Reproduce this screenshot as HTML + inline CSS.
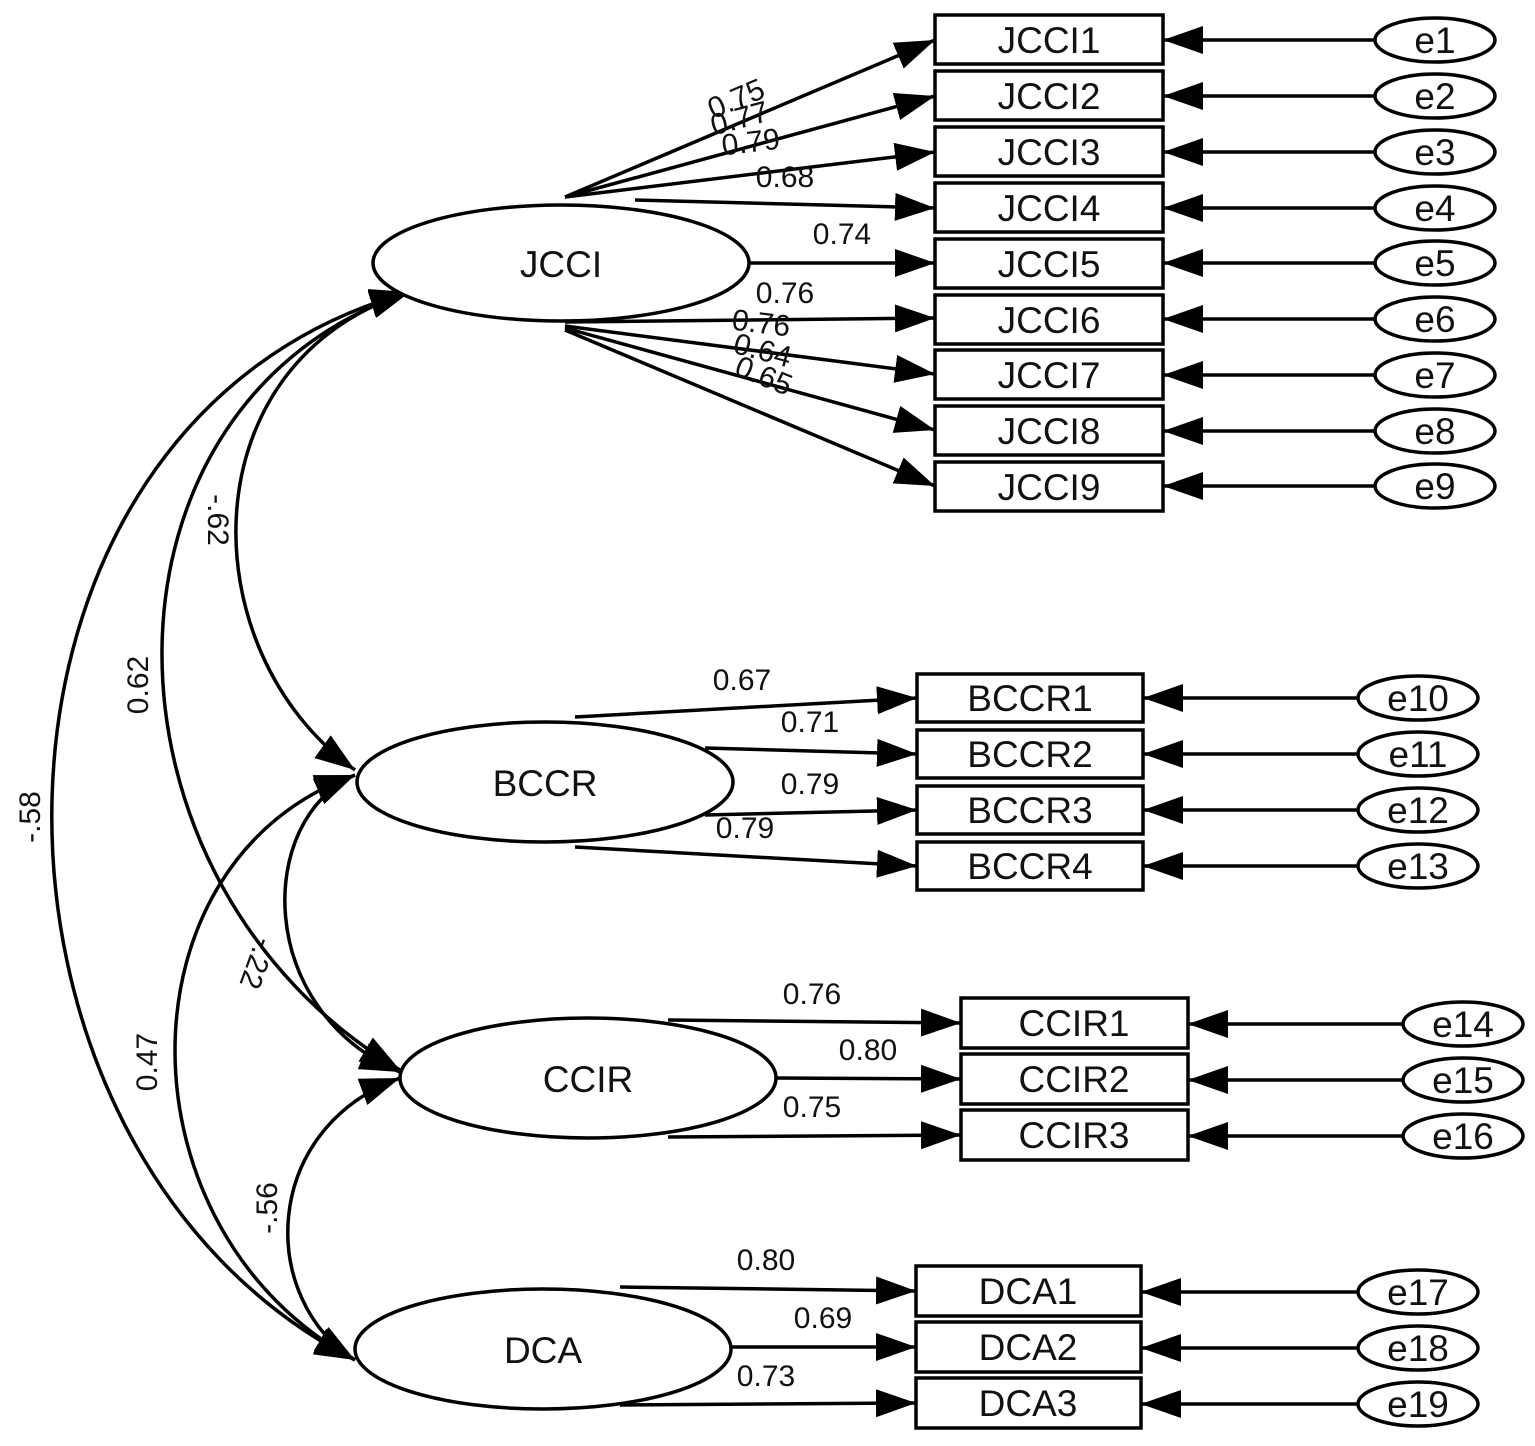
<!DOCTYPE html>
<html><head><meta charset="utf-8"><style>
html,body{margin:0;padding:0;background:#fff}
svg text{font-family:"Liberation Sans",sans-serif;fill:#111}
</style></head><body>
<svg width="1535" height="1441" viewBox="0 0 1535 1441" xmlns="http://www.w3.org/2000/svg">
<defs>
<marker id="a" markerUnits="userSpaceOnUse" markerWidth="46" markerHeight="34" refX="40" refY="14" orient="auto-start-reverse">
<path d="M0,0 L40,14 L0,28 z" fill="#000"/></marker>
</defs>
<g fill="none" stroke="#000" stroke-width="3.5">
<path d="M410,292 C-58,420 -58,1150 355,1360" marker-start="url(#a)" marker-end="url(#a)"/>
<path d="M410,292 C81,400 81,880 400,1070" marker-start="url(#a)" marker-end="url(#a)"/>
<path d="M410,292 C188,360 188,650 355,770" marker-start="url(#a)" marker-end="url(#a)"/>
<path d="M355,775 C255,820 255,1010 400,1072" marker-start="url(#a)" marker-end="url(#a)"/>
<path d="M355,775 C115,860 115,1230 355,1360" marker-start="url(#a)" marker-end="url(#a)"/>
<path d="M400,1078 C259,1130 259,1300 355,1360" marker-start="url(#a)" marker-end="url(#a)"/>
<line x1="565" y1="197" x2="935" y2="40" marker-end="url(#a)"/>
<line x1="565" y1="197" x2="935" y2="96" marker-end="url(#a)"/>
<line x1="565" y1="197" x2="935" y2="152" marker-end="url(#a)"/>
<line x1="635" y1="200" x2="935" y2="208" marker-end="url(#a)"/>
<line x1="749" y1="263" x2="935" y2="263" marker-end="url(#a)"/>
<line x1="565" y1="322" x2="935" y2="318" marker-end="url(#a)"/>
<line x1="565" y1="326" x2="935" y2="374" marker-end="url(#a)"/>
<line x1="565" y1="328" x2="935" y2="430" marker-end="url(#a)"/>
<line x1="565" y1="330" x2="935" y2="486" marker-end="url(#a)"/>
<line x1="575" y1="717" x2="917" y2="698" marker-end="url(#a)"/>
<line x1="705" y1="748" x2="917" y2="754" marker-end="url(#a)"/>
<line x1="705" y1="815" x2="917" y2="810" marker-end="url(#a)"/>
<line x1="575" y1="847" x2="917" y2="866" marker-end="url(#a)"/>
<line x1="668" y1="1020" x2="961" y2="1023" marker-end="url(#a)"/>
<line x1="776" y1="1078" x2="961" y2="1079" marker-end="url(#a)"/>
<line x1="668" y1="1137" x2="961" y2="1135" marker-end="url(#a)"/>
<line x1="620" y1="1287" x2="916" y2="1291" marker-end="url(#a)"/>
<line x1="731" y1="1347" x2="916" y2="1347" marker-end="url(#a)"/>
<line x1="620" y1="1405" x2="916" y2="1403" marker-end="url(#a)"/>
<line x1="1375" y1="40" x2="1163" y2="40" marker-end="url(#a)"/>
<line x1="1375" y1="96" x2="1163" y2="96" marker-end="url(#a)"/>
<line x1="1375" y1="152" x2="1163" y2="152" marker-end="url(#a)"/>
<line x1="1375" y1="208" x2="1163" y2="208" marker-end="url(#a)"/>
<line x1="1375" y1="263" x2="1163" y2="263" marker-end="url(#a)"/>
<line x1="1375" y1="319" x2="1163" y2="319" marker-end="url(#a)"/>
<line x1="1375" y1="375" x2="1163" y2="375" marker-end="url(#a)"/>
<line x1="1375" y1="431" x2="1163" y2="431" marker-end="url(#a)"/>
<line x1="1375" y1="486" x2="1163" y2="486" marker-end="url(#a)"/>
<line x1="1358" y1="698" x2="1143" y2="698" marker-end="url(#a)"/>
<line x1="1358" y1="754" x2="1143" y2="754" marker-end="url(#a)"/>
<line x1="1358" y1="810" x2="1143" y2="810" marker-end="url(#a)"/>
<line x1="1358" y1="866" x2="1143" y2="866" marker-end="url(#a)"/>
<line x1="1403" y1="1024" x2="1188" y2="1024" marker-end="url(#a)"/>
<line x1="1403" y1="1080" x2="1188" y2="1080" marker-end="url(#a)"/>
<line x1="1403" y1="1136" x2="1188" y2="1136" marker-end="url(#a)"/>
<line x1="1358" y1="1292" x2="1141" y2="1292" marker-end="url(#a)"/>
<line x1="1358" y1="1348" x2="1141" y2="1348" marker-end="url(#a)"/>
<line x1="1358" y1="1404" x2="1141" y2="1404" marker-end="url(#a)"/>
</g>
<g fill="#fff" stroke="#000" stroke-width="3.5">
<ellipse cx="561" cy="263" rx="188" ry="58"/>
<ellipse cx="545" cy="782" rx="188" ry="60"/>
<ellipse cx="588" cy="1078" rx="188" ry="60"/>
<ellipse cx="543" cy="1349" rx="188" ry="60"/>
<rect x="935" y="15" width="228" height="49"/>
<rect x="935" y="71" width="228" height="49"/>
<rect x="935" y="127" width="228" height="49"/>
<rect x="935" y="183" width="228" height="49"/>
<rect x="935" y="239" width="228" height="49"/>
<rect x="935" y="295" width="228" height="49"/>
<rect x="935" y="350" width="228" height="49"/>
<rect x="935" y="406" width="228" height="49"/>
<rect x="935" y="462" width="228" height="49"/>
<rect x="917" y="674" width="226" height="48"/>
<rect x="917" y="730" width="226" height="48"/>
<rect x="917" y="786" width="226" height="48"/>
<rect x="917" y="842" width="226" height="48"/>
<rect x="961" y="998" width="227" height="50"/>
<rect x="961" y="1054" width="227" height="50"/>
<rect x="961" y="1110" width="227" height="50"/>
<rect x="916" y="1266" width="225" height="50"/>
<rect x="916" y="1322" width="225" height="50"/>
<rect x="916" y="1378" width="225" height="50"/>
<ellipse cx="1435" cy="40" rx="60" ry="22"/>
<ellipse cx="1435" cy="96" rx="60" ry="22"/>
<ellipse cx="1435" cy="152" rx="60" ry="22"/>
<ellipse cx="1435" cy="208" rx="60" ry="22"/>
<ellipse cx="1435" cy="263" rx="60" ry="22"/>
<ellipse cx="1435" cy="319" rx="60" ry="22"/>
<ellipse cx="1435" cy="375" rx="60" ry="22"/>
<ellipse cx="1435" cy="431" rx="60" ry="22"/>
<ellipse cx="1435" cy="486" rx="60" ry="22"/>
<ellipse cx="1418" cy="698" rx="60" ry="22"/>
<ellipse cx="1418" cy="754" rx="60" ry="22"/>
<ellipse cx="1418" cy="810" rx="60" ry="22"/>
<ellipse cx="1418" cy="866" rx="60" ry="22"/>
<ellipse cx="1463" cy="1024" rx="60" ry="22"/>
<ellipse cx="1463" cy="1080" rx="60" ry="22"/>
<ellipse cx="1463" cy="1136" rx="60" ry="22"/>
<ellipse cx="1418" cy="1292" rx="60" ry="22"/>
<ellipse cx="1418" cy="1348" rx="60" ry="22"/>
<ellipse cx="1418" cy="1404" rx="60" ry="22"/>
</g>
<g style="font-size:37px" text-anchor="middle">
<text x="561" y="277">JCCI</text>
<text x="545" y="796">BCCR</text>
<text x="588" y="1092">CCIR</text>
<text x="543" y="1363">DCA</text>
<text x="1049" y="53">JCCI1</text><text x="1049" y="109">JCCI2</text><text x="1049" y="165">JCCI3</text>
<text x="1049" y="221">JCCI4</text><text x="1049" y="277">JCCI5</text><text x="1049" y="333">JCCI6</text>
<text x="1049" y="388">JCCI7</text><text x="1049" y="444">JCCI8</text><text x="1049" y="500">JCCI9</text>
<text x="1030" y="711">BCCR1</text><text x="1030" y="767">BCCR2</text><text x="1030" y="823">BCCR3</text><text x="1030" y="879">BCCR4</text>
<text x="1074" y="1036">CCIR1</text><text x="1074" y="1092">CCIR2</text><text x="1074" y="1148">CCIR3</text>
<text x="1028" y="1304">DCA1</text><text x="1028" y="1360">DCA2</text><text x="1028" y="1416">DCA3</text>
<text x="1435" y="53">e1</text><text x="1435" y="109">e2</text><text x="1435" y="165">e3</text>
<text x="1435" y="221">e4</text><text x="1435" y="276">e5</text><text x="1435" y="332">e6</text>
<text x="1435" y="388">e7</text><text x="1435" y="444">e8</text><text x="1435" y="499">e9</text>
<text x="1418" y="711">e10</text><text x="1418" y="767">e11</text><text x="1418" y="823">e12</text><text x="1418" y="879">e13</text>
<text x="1463" y="1037">e14</text><text x="1463" y="1093">e15</text><text x="1463" y="1149">e16</text>
<text x="1418" y="1305">e17</text><text x="1418" y="1361">e18</text><text x="1418" y="1417">e19</text>
</g>
<g style="font-size:30px" text-anchor="middle">
<text transform="translate(740,108) rotate(-23)">0.75</text>
<text transform="translate(742,128) rotate(-15)">0.77</text>
<text transform="translate(752,152) rotate(-7)">0.79</text>
<text x="785" y="187">0.68</text>
<text x="842" y="244">0.74</text>
<text x="785" y="303">0.76</text>
<text transform="translate(760,333) rotate(7)">0.76</text>
<text transform="translate(760,360) rotate(15)">0.64</text>
<text transform="translate(760,385) rotate(22)">0.65</text>
<text x="742" y="690">0.67</text>
<text x="810" y="732">0.71</text>
<text x="810" y="794">0.79</text>
<text x="745" y="838">0.79</text>
<text x="812" y="1004">0.76</text>
<text x="868" y="1060">0.80</text>
<text x="812" y="1117">0.75</text>
<text x="766" y="1270">0.80</text>
<text x="823" y="1328">0.69</text>
<text x="766" y="1386">0.73</text>
<text transform="translate(208,520) rotate(90)">-.62</text>
<text transform="translate(148,685) rotate(-90)">0.62</text>
<text transform="translate(40,817) rotate(-90)">-.58</text>
<text transform="translate(248,960) rotate(110)">-.22</text>
<text transform="translate(157,1062) rotate(-90)">0.47</text>
<text transform="translate(277,1208) rotate(-90)">-.56</text>
</g>
</svg>
</body></html>
